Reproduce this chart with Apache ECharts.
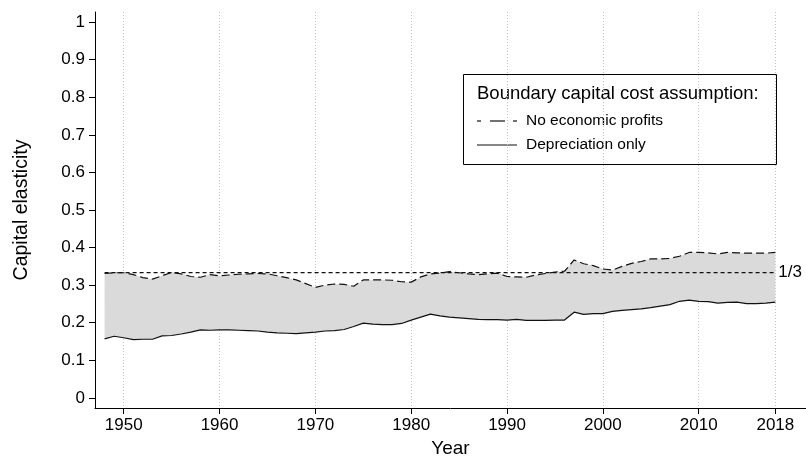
<!DOCTYPE html>
<html>
<head>
<meta charset="utf-8">
<script src="https://cdn.jsdelivr.net/npm/echarts@6/dist/echarts.min.js"></script>
<style>
  html, body { margin: 0; padding: 0; background: #fff; }
  #chart { width: 806px; height: 456px; }
</style>
</head>
<body>
<div id="chart"></div>
<script>
// Capital elasticity bounds, 1948-2018
const years = [
  1948, 1949, 1950, 1951, 1952, 1953, 1954, 1955, 1956, 1957,
  1958, 1959, 1960, 1961, 1962, 1963, 1964, 1965, 1966, 1967,
  1968, 1969, 1970, 1971, 1972, 1973, 1974, 1975, 1976, 1977,
  1978, 1979, 1980, 1981, 1982, 1983, 1984, 1985, 1986, 1987,
  1988, 1989, 1990, 1991, 1992, 1993, 1994, 1995, 1996, 1997,
  1998, 1999, 2000, 2001, 2002, 2003, 2004, 2005, 2006, 2007,
  2008, 2009, 2010, 2011, 2012, 2013, 2014, 2015, 2016, 2017,
  2018
];

// Upper bound: no economic profits
const noProfits = [
  0.331, 0.333, 0.333, 0.328, 0.320, 0.316, 0.325, 0.334, 0.330, 0.323,
  0.321, 0.328, 0.325, 0.327, 0.329, 0.330, 0.331, 0.330, 0.325, 0.320,
  0.314, 0.304, 0.294, 0.300, 0.303, 0.302, 0.297, 0.314, 0.314, 0.314,
  0.313, 0.309, 0.308, 0.322, 0.330, 0.332, 0.336, 0.333, 0.330, 0.328,
  0.330, 0.332, 0.323, 0.322, 0.321, 0.327, 0.331, 0.335, 0.337, 0.367,
  0.357, 0.352, 0.343, 0.340, 0.350, 0.358, 0.363, 0.370, 0.370, 0.371,
  0.377, 0.387, 0.387, 0.386, 0.383, 0.387, 0.386, 0.385, 0.385, 0.385,
  0.387
];

// Lower bound: depreciation only
const deprecOnly = [
  0.157, 0.164, 0.160, 0.155, 0.156, 0.156, 0.165, 0.166, 0.170, 0.175,
  0.181, 0.180, 0.181, 0.181, 0.180, 0.179, 0.178, 0.175, 0.173, 0.172,
  0.171, 0.173, 0.175, 0.178, 0.179, 0.182, 0.190, 0.199, 0.196, 0.195,
  0.195, 0.198, 0.207, 0.215, 0.223, 0.218, 0.215, 0.213, 0.211, 0.209,
  0.208, 0.208, 0.207, 0.209, 0.206, 0.206, 0.206, 0.207, 0.207, 0.228,
  0.222, 0.224, 0.224, 0.230, 0.233, 0.235, 0.237, 0.240, 0.244, 0.248,
  0.257, 0.260, 0.257, 0.256, 0.252, 0.254, 0.255, 0.251, 0.251, 0.252,
  0.255
];

const xTicks = [1950, 1960, 1970, 1980, 1990, 2000, 2010, 2018];
const yTicks = [0, 0.1, 0.2, 0.3, 0.4, 0.5, 0.6, 0.7, 0.8, 0.9, 1];
const yTickLabels = ['0', '0.1', '0.2', '0.3', '0.4', '0.5', '0.6', '0.7', '0.8', '0.9', '1'];

const refLevel = 1 / 3;
const refLabel = '1/3';
const legendTitle = 'Boundary capital cost assumption:';
const seriesNames = ['No economic profits', 'Depreciation only'];
const xTitle = 'Year';
const yTitle = 'Capital elasticity';

const FONT = '"Liberation Sans", Arial, Helvetica, sans-serif';
const INK = '#111';

const toPairs = arr => years.map((y, i) => [y, arr[i]]);

const chart = echarts.init(document.getElementById('chart'), null, { renderer: 'canvas' });

const option = {
  animation: false,
  backgroundColor: '#fff',
  grid: { left: 95, right: 0, top: 12, bottom: 48, outerBoundsMode: 'none', containLabel: false },
  xAxis: {
    type: 'value',
    min: 1947,
    max: 2021.2,
    name: xTitle,
    nameLocation: 'middle',
    nameGap: 30,
    nameTextStyle: { fontFamily: FONT, fontSize: 19, color: '#000' },
    axisLine: { show: true, onZero: false, lineStyle: { color: '#000', width: 1 } },
    axisTick: { show: true, length: 6, customValues: xTicks, lineStyle: { color: '#000', width: 1 } },
    axisLabel: {
      customValues: xTicks, margin: 9, fontFamily: FONT, fontSize: 17, color: '#000',
      formatter: v => String(v)
    },
    splitLine: { show: true, lineStyle: { color: '#c4c4c4', width: 1, type: [1, 2] } }
  },
  yAxis: {
    type: 'value',
    min: -0.027,
    max: 1.027,
    name: yTitle,
    nameLocation: 'middle',
    nameGap: 63,
    nameTextStyle: { fontFamily: FONT, fontSize: 19.5, color: '#000' },
    axisLine: { show: true, onZero: false, lineStyle: { color: '#000', width: 1 } },
    axisTick: { show: true, length: 6, customValues: yTicks, lineStyle: { color: '#000', width: 1 } },
    axisLabel: {
      customValues: yTicks,
      margin: 10,
      fontFamily: FONT,
      fontSize: 17,
      color: '#000',
      formatter: v => yTickLabels[yTicks.findIndex(t => Math.abs(t - v) < 1e-9)] ?? String(v)
    },
    splitLine: { show: false }
  },
  series: [
    {
      // grey band between the two bounds, built from both series through the axes
      type: 'custom',
      name: 'band',
      silent: true,
      clip: true,
      data: [[years[0], deprecOnly[0]]],
      renderItem: (params, api) => {
        const upper = years.map((y, i) => api.coord([y, noProfits[i]]));
        const lower = years.map((y, i) => api.coord([y, deprecOnly[i]])).reverse();
        return {
          type: 'polygon',
          shape: { points: upper.concat(lower) },
          style: { fill: '#dadadb', stroke: null }
        };
      },
      z: 1
    },
    {
      type: 'line',
      name: seriesNames[0],
      data: toPairs(noProfits),
      symbol: 'none',
      lineStyle: { color: INK, width: 1.2, type: [8, 4] },
      z: 3
    },
    {
      type: 'line',
      name: seriesNames[1],
      data: toPairs(deprecOnly),
      symbol: 'none',
      lineStyle: { color: INK, width: 1.2 },
      z: 3
    },
    {
      // reference level at one third
      type: 'line',
      name: 'reference',
      data: [[years[0], refLevel], [years[years.length - 1], refLevel]],
      symbol: 'none',
      lineStyle: { color: INK, width: 1.3, type: [4, 3] },
      endLabel: {
        show: true,
        formatter: refLabel,
        distance: 3,
        fontFamily: FONT,
        fontSize: 17,
        color: '#000'
      },
      z: 4
    }
  ],
  graphic: [
    {
      type: 'group',
      x: 463,
      y: 74,
      z: 10,
      children: [
        { type: 'rect', shape: { x: 0.5, y: 0.5, width: 313, height: 90 },
          style: { fill: '#fff', stroke: '#000', lineWidth: 1 } },
        { type: 'text', x: 14, y: 20,
          style: { text: legendTitle, font: '18.5px ' + FONT, fill: '#000', verticalAlign: 'middle' } },
        // dashed sample
        { type: 'line', shape: { x1: 14, y1: 47, x2: 18, y2: 47 }, style: { stroke: INK, lineWidth: 1.2 } },
        { type: 'line', shape: { x1: 27, y1: 47, x2: 42, y2: 47 }, style: { stroke: INK, lineWidth: 1.2 } },
        { type: 'line', shape: { x1: 50, y1: 47, x2: 54, y2: 47 }, style: { stroke: INK, lineWidth: 1.2 } },
        { type: 'text', x: 63, y: 47,
          style: { text: seriesNames[0], font: '15.5px ' + FONT, fill: '#000', verticalAlign: 'middle' } },
        // solid sample
        { type: 'line', shape: { x1: 14, y1: 71, x2: 54, y2: 71 }, style: { stroke: INK, lineWidth: 1.2 } },
        { type: 'text', x: 63, y: 71,
          style: { text: seriesNames[1], font: '15.5px ' + FONT, fill: '#000', verticalAlign: 'middle' } }
      ]
    }
  ]
};

chart.setOption(option);
</script>
</body>
</html>
